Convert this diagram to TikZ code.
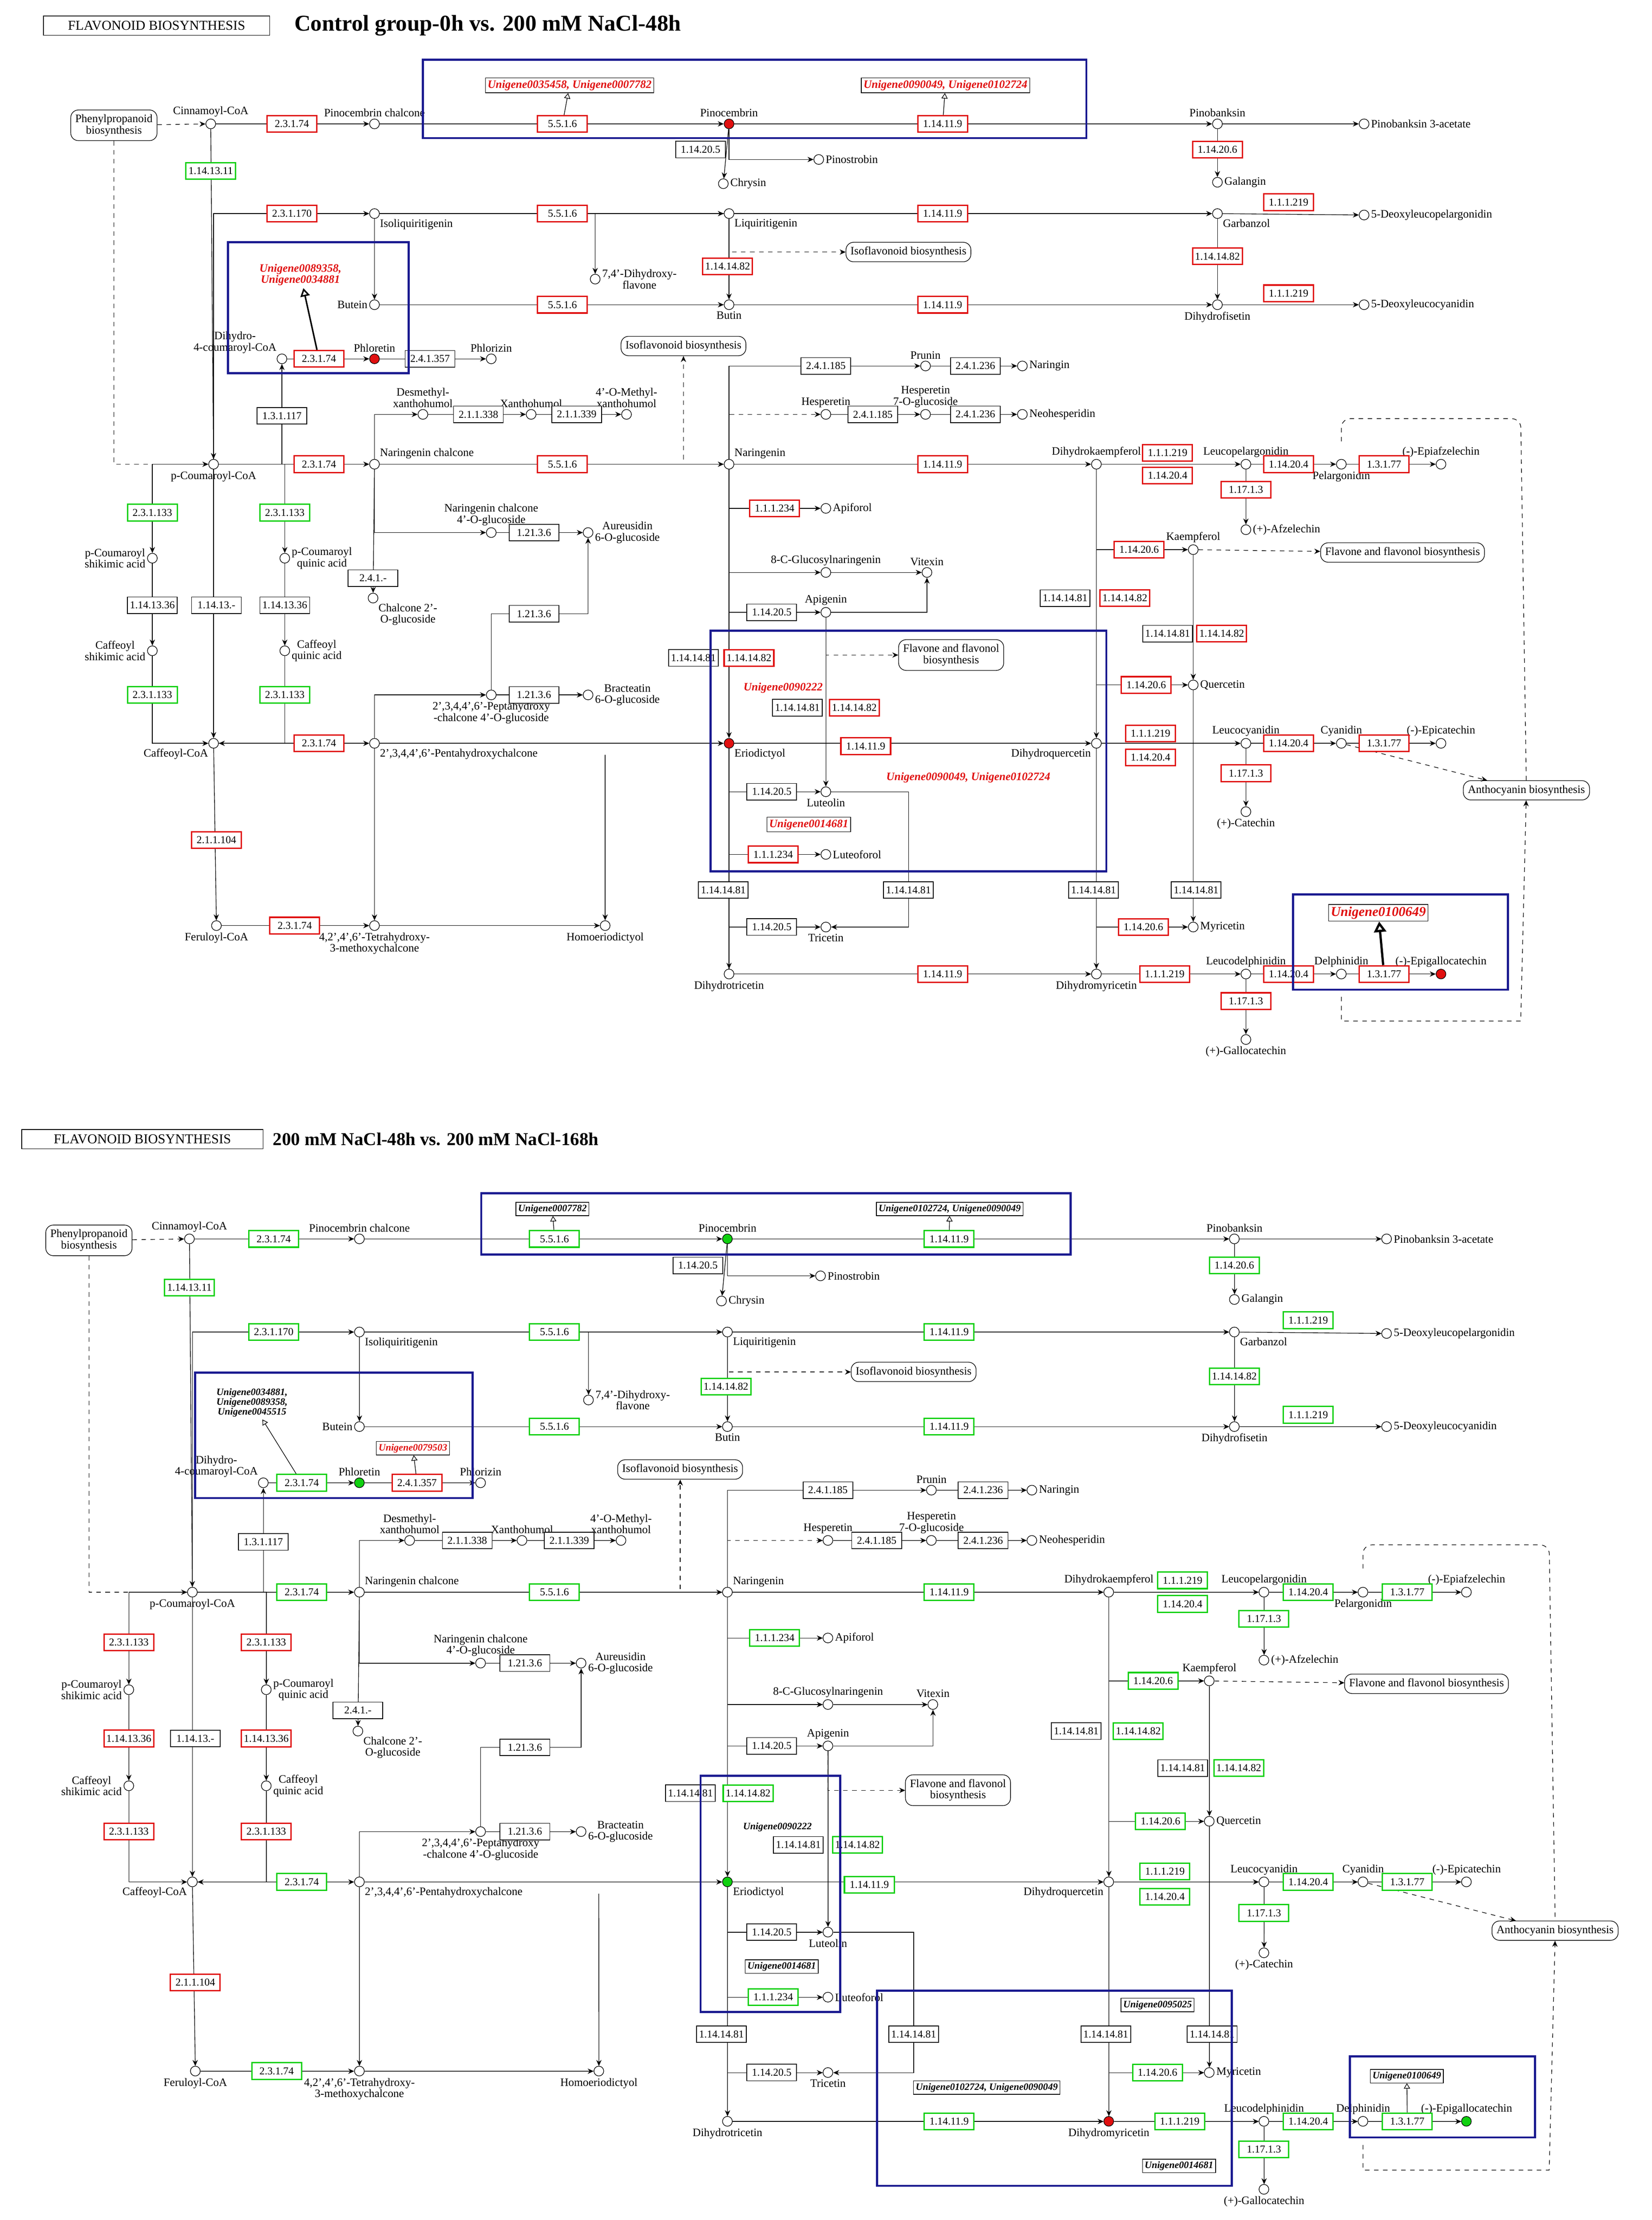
\documentclass[tikz,border=0pt]{standalone}
\usepackage{fontspec}
\setmainfont{Liberation Serif}
\usetikzlibrary{arrows.meta,calc}
\definecolor{kR}{HTML}{E01010}
\definecolor{kG}{HTML}{10D010}
\definecolor{kK}{HTML}{000000}
\definecolor{kW}{HTML}{FFFFFF}
\definecolor{navy}{HTML}{1A1A90}
\newif\ifbot
\newcounter{enzc}
\newcommand\E[5]{\ifbot\def\ecol{k#5}\def\ekey{#5}\else\def\ecol{k#4}\def\ekey{#4}\fi\stepcounter{enzc}%
  \if K\ekey\def\elw{0.5pt}\else\def\elw{0.9pt}\fi
  \node[enz,draw=\ecol,line width=\elw] (e\arabic{enzc}) at (#1,#2) {#3};}
\newcommand\C[6]{\ifbot\def\ccol{k#6}\else\def\ccol{k#5}\fi%
  \node[cpd,fill=\ccol,label={[lab]#4}] (#1) at (#2,#3) {};}
\tikzset{
 enz/.style={rectangle,fill=white,minimum width=33pt,minimum height=11pt,inner sep=1pt,font=\fontsize{7}{7}\selectfont},
 cpd/.style={circle,draw,thin,minimum size=6.5pt,inner sep=0pt},
 lab/.style={font=\fontsize{7.5}{7.5}\selectfont,align=center,inner sep=1pt},
 pbox/.style={rounded corners=5pt,draw,fill=white,align=center,font=\fontsize{7.5}{7.5}\selectfont,inner sep=3pt},
 ar/.style={-{Stealth[length=4pt,width=3.5pt]},thin},
 da/.style={ar,dashed},
 bluebox/.style={draw=navy,line width=1.4pt},
 ulab/.style={draw,thin,font=\fontsize{7.5}{7.5}\selectfont\bfseries\itshape,inner sep=1.5pt,align=center,fill=white},
}
\newcommand\pathway{%
\setcounter{enzc}{0}%
\node[pbox] (ppb) at (80,88) {Phenylpropanoid\\biosynthesis};
\node[pbox] (iso1) at (638,177) {Isoflavonoid biosynthesis};
\node[pbox] (iso2) at (480,243) {Isoflavonoid biosynthesis};
\node[pbox] (ffb1) at (668,460) {Flavone and flavonol\\biosynthesis};
\node[pbox] (ffb2) at (985,388) {Flavone and flavonol biosynthesis};
\node[pbox] (anth) at (1072,555) {Anthocyanin biosynthesis};
\C{cin}{148}{87}{above:Cinnamoyl-CoA}{W}{W}
\C{pinc}{263}{87}{above:Pinocembrin chalcone}{W}{W}
\C{pino}{512}{87}{above:Pinocembrin}{R}{G}
\C{pinb}{855}{87}{above:Pinobanksin}{W}{W}
\C{pinb3}{958}{87}{right:Pinobanksin 3-acetate}{W}{W}
\C{gal}{855}{128}{right:Galangin}{W}{W}
\C{pstr}{575}{112}{right:Pinostrobin}{W}{W}
\C{chry}{508}{129}{right:Chrysin}{W}{W}
\C{iso}{263}{150}{below right:Isoliquiritigenin}{W}{W}
\C{liq}{512}{150}{below right:Liquiritigenin}{W}{W}
\C{garb}{855}{150}{below right:Garbanzol}{W}{W}
\C{dlp}{958}{151}{right:5-Deoxyleucopelargonidin}{W}{W}
\C{dhf}{418}{196}{right:{7,4'-Dihydroxy-\\flavone}}{W}{W}
\C{but}{263}{214}{left:Butein}{W}{W}
\C{buti}{512}{214}{below:Butin}{W}{W}
\C{dfis}{855}{214}{below:Dihydrofisetin}{W}{W}
\C{dlc}{958}{214}{right:5-Deoxyleucocyanidin}{W}{W}
\C{dh4}{198}{252}{above left:{Dihydro-\\4-coumaroyl-CoA}}{W}{W}
\C{phlt}{263}{252}{above:Phloretin}{R}{G}
\C{phlz}{345}{252}{above:Phlorizin}{W}{W}
\C{prun}{650}{257}{above:Prunin}{W}{W}
\C{narg}{718}{257}{right:Naringin}{W}{W}
\C{desm}{297}{291}{above:{Desmethyl-\\xanthohumol}}{W}{W}
\C{xan}{373}{291}{above:Xanthohumol}{W}{W}
\C{omx}{440}{291}{above:{4'-O-Methyl-\\xanthohumol}}{W}{W}
\C{hesp}{580}{291}{above:Hesperetin}{W}{W}
\C{hesg}{650}{291}{above:{Hesperetin\\7-O-glucoside}}{W}{W}
\C{neoh}{718}{291}{right:Neohesperidin}{W}{W}
\C{pcc}{150}{326}{below:p-Coumaroyl-CoA}{W}{W}
\C{narc}{263}{326}{above right:Naringenin chalcone}{W}{W}
\C{nar}{512}{326}{above right:Naringenin}{W}{W}
\C{dhk}{770}{326}{above:Dihydrokaempferol}{W}{W}
\C{lpel}{875}{326}{above:Leucopelargonidin}{W}{W}
\C{pel}{942}{326}{below:Pelargonidin}{W}{W}
\C{epiaf}{1012}{326}{above:(-)-Epiafzelechin}{W}{W}
\C{afz}{875}{372}{right:(+)-Afzelechin}{W}{W}
\C{pcs}{107}{392}{left:{p-Coumaroyl\\shikimic acid}}{W}{W}
\C{pcq}{200}{392}{right:{p-Coumaroyl\\quinic acid}}{W}{W}
\C{ncg}{345}{374}{above:{Naringenin chalcone\\4'-O-glucoside}}{W}{W}
\C{aur}{413}{374}{right:{Aureusidin\\6-O-glucoside}}{W}{W}
\C{c2g}{262}{420}{below right:{Chalcone 2'-\\O-glucoside}}{W}{W}
\C{apif}{580}{357}{right:Apiforol}{W}{W}
\C{cgn}{580}{402}{above:8-C-Glucosylnaringenin}{W}{W}
\C{vit}{651}{402}{above:Vitexin}{W}{W}
\C{api}{580}{430}{above:Apigenin}{W}{W}
\C{kae}{838}{386}{above:Kaempferol}{W}{W}
\C{cs}{107}{457}{left:{Caffeoyl\\shikimic acid}}{W}{W}
\C{cq}{200}{457}{right:{Caffeoyl\\quinic acid}}{W}{W}
\C{que}{838}{481}{right:Quercetin}{W}{W}
\C{pentg}{345}{488}{below:{2',3,4,4',6'-Peptahydroxy\\-chalcone 4'-O-glucoside}}{W}{W}
\C{brac}{413}{488}{right:{Bracteatin\\6-O-glucoside}}{W}{W}
\C{caf}{150}{522}{below left:Caffeoyl-CoA}{W}{W}
\C{penta}{263}{522}{below right:2',3,4,4',6'-Pentahydroxychalcone}{W}{W}
\C{erio}{512}{522}{below right:Eriodictyol}{R}{G}
\C{dhq}{770}{522}{below left:Dihydroquercetin}{W}{W}
\C{lcy}{875}{522}{above:Leucocyanidin}{W}{W}
\C{cya}{942}{522}{above:Cyanidin}{W}{W}
\C{epic}{1012}{522}{above:(-)-Epicatechin}{W}{W}
\C{cat}{875}{570}{below:(+)-Catechin}{W}{W}
\C{lut}{580}{556}{below:Luteolin}{W}{W}
\C{lutf}{580}{600}{right:Luteoforol}{W}{W}
\C{fer}{152}{650}{below:Feruloyl-CoA}{W}{W}
\C{tetra}{263}{650}{below:{4,2',4',6'-Tetrahydroxy-\\3-methoxychalcone}}{W}{W}
\C{homo}{425}{650}{below:Homoeriodictyol}{W}{W}
\C{tric}{580}{651}{below:Tricetin}{W}{W}
\C{myr}{838}{651}{right:Myricetin}{W}{W}
\C{dht}{512}{684}{below:Dihydrotricetin}{W}{W}
\C{dhm}{770}{684}{below:Dihydromyricetin}{W}{R}
\C{ldel}{875}{684}{above:Leucodelphinidin}{W}{W}
\C{del}{942}{684}{above:Delphinidin}{W}{W}
\C{epig}{1012}{684}{above:(-)-Epigallocatechin}{R}{G}
\C{gcat}{875}{730}{below:(+)-Gallocatechin}{W}{W}
% connectors
\draw[da] (ppb) -- (cin);
\draw[da] (ppb) |- (pcc);
\draw[ar] (cin) -- (pinc);
\draw[ar] (pinc) -- (pino);
\draw[ar] (pino) -- (pinb);
\draw[ar] (pinb) -- (pinb3);
\draw[ar] (pinb) -- (gal);
\draw[ar] (pino) |- (pstr);
\draw[ar] (pino) -- (chry);
\draw[ar] (cin) -- (pcc);
\draw[ar] (pcc) |- (iso);
\draw[ar] (iso) -- (liq);
\draw[ar] (liq) -- (garb);
\draw[ar] (garb) -- (dlp);
\draw[ar] (liq) -| (dhf);
\draw[da] (liq) |- (iso1);
\draw[ar] (liq) -- (buti);
\draw[ar] (garb) -- (dfis);
\draw[ar] (iso) -- (but);
\draw[ar] (but) -- (buti);
\draw[ar] (buti) -- (dfis);
\draw[ar] (dfis) -- (dlc);
\draw[ar] (pcc) -| (dh4);
\draw[ar] (dh4) -- (phlt);
\draw[ar] (phlt) -- (phlz);
\draw[ar] (pcc) -- (narc);
\draw[ar] (narc) -- (nar);
\draw[ar] (nar) -- (dhk);
\draw[ar] (dhk) -- (lpel);
\draw[ar] (lpel) -- (pel);
\draw[ar] (pel) -- (epiaf);
\draw[ar] (lpel) -- (afz);
\draw[ar] (narc) |- (desm);
\draw[ar] (desm) -- (xan);
\draw[ar] (xan) -- (omx);
\draw[ar] (narc) |- (ncg);
\draw[ar] (ncg) -- (aur);
\draw[ar] (narc) -- (c2g);
\draw[ar] (nar) |- (prun);
\draw[da] (nar) |- (hesp);
\draw[da] (nar) -| (iso2);
\draw[ar] (prun) -- (narg);
\draw[ar] (hesp) -- (hesg);
\draw[ar] (hesg) -- (neoh);
\draw[ar] (nar) |- (apif);
\draw[ar] (nar) |- (cgn);
\draw[ar] (cgn) -- (vit);
\draw[ar] (nar) |- (api);
\draw[ar] (api) -| (vit);
\draw[da] (api) |- (ffb1);
\draw[ar] (nar) -- (erio);
\draw[ar] (pcc) -| (pcs);
\draw[ar] (pcc) -| (pcq);
\draw[ar] (pcs) -- (cs);
\draw[ar] (pcq) -- (cq);
\draw[ar] (cs) |- (caf);
\draw[ar] (cq) |- (caf);
\draw[ar] (pcc) -- (caf);
\draw[ar] (caf) -- (penta);
\draw[ar] (penta) -- (erio);
\draw[ar] (penta) |- (pentg);
\draw[ar] (pentg) -- (brac);
\draw[ar] (pentg) |- (375,431) -| (aur);
\draw[ar] (caf) -- (fer);
\draw[ar] (fer) -- (tetra);
\draw[ar] (tetra) -- (homo);
\draw[ar] (penta) -- (tetra);
\draw[ar] (425,530) -- (homo);
\draw[ar] (erio) -- (dhq);
\draw[ar] (dhq) -- (lcy);
\draw[ar] (lcy) -- (cya);
\draw[ar] (cya) -- (epic);
\draw[ar] (lcy) -- (cat);
\draw[ar] (erio) |- (lut);
\draw[ar] (erio) |- (lutf);
\draw[ar] (api) -- (lut);
\draw[ar] (erio) -- (dht);
\draw[ar] (lut) -| (638,640) |- (tric);
\draw[ar] (dht) |- (tric);
\draw[ar] (dht) -- (dhm);
\draw[ar] (dhm) -- (ldel);
\draw[ar] (ldel) -- (del);
\draw[ar] (del) -- (epig);
\draw[ar] (ldel) -- (gcat);
\draw[ar] (dhk) -- (dhq);
\draw[ar] (dhq) -- (dhm);
\draw[ar] (dhk) |- (kae);
\draw[da] (kae) -- (ffb2);
\draw[ar] (kae) -- (que);
\draw[ar] (que) -- (myr);
\draw[ar] (dhq) |- (que);
\draw[ar] (dhm) |- (myr);
\draw[da] (cya) -- (anth);
\draw[dashed,rounded corners=6pt] (942,310) |- (1068,294) -- (anth);
\draw[da] (942,700) |- (1068,717) -- (anth);
% enzymes
\E{205}{87}{2.3.1.74}{R}{G}
\E{395}{87}{5.5.1.6}{R}{G}
\E{662}{87}{1.14.11.9}{R}{G}
\E{855}{105}{1.14.20.6}{R}{G}
\E{492}{105}{1.14.20.5}{K}{K}
\E{148}{120}{1.14.13.11}{G}{G}
\E{205}{150}{2.3.1.170}{R}{G}
\E{395}{150}{5.5.1.6}{R}{G}
\E{662}{150}{1.14.11.9}{R}{G}
\E{905}{142}{1.1.1.219}{R}{G}
\E{511}{187}{1.14.14.82}{R}{G}
\E{855}{180}{1.14.14.82}{R}{G}
\E{395}{214}{5.5.1.6}{R}{G}
\E{662}{214}{1.14.11.9}{R}{G}
\E{905}{206}{1.1.1.219}{R}{G}
\E{224}{252}{2.3.1.74}{R}{G}
\E{302}{252}{2.4.1.357}{K}{R}
\E{198}{292}{1.3.1.117}{K}{K}
\E{580}{257}{2.4.1.185}{K}{K}
\E{685}{257}{2.4.1.236}{K}{K}
\E{336}{291}{2.1.1.338}{K}{K}
\E{405}{291}{2.1.1.339}{K}{K}
\E{613}{291}{2.4.1.185}{K}{K}
\E{685}{291}{2.4.1.236}{K}{K}
\E{224}{326}{2.3.1.74}{R}{G}
\E{395}{326}{5.5.1.6}{R}{G}
\E{662}{326}{1.14.11.9}{R}{G}
\E{820}{318}{1.1.1.219}{R}{G}
\E{820}{334}{1.14.20.4}{R}{G}
\E{905}{326}{1.14.20.4}{R}{G}
\E{972}{326}{1.3.1.77}{R}{G}
\E{875}{344}{1.17.1.3}{R}{G}
\E{107}{360}{2.3.1.133}{G}{R}
\E{200}{360}{2.3.1.133}{G}{R}
\E{544}{357}{1.1.1.234}{R}{G}
\E{375}{374}{1.21.3.6}{K}{K}
\E{800}{386}{1.14.20.6}{R}{G}
\E{262}{406}{2.4.1.-}{K}{K}
\E{748}{420}{1.14.14.81}{K}{K}
\E{790}{420}{1.14.14.82}{R}{G}
\E{107}{425}{1.14.13.36}{K}{R}
\E{152}{425}{1.14.13.-}{K}{K}
\E{200}{425}{1.14.13.36}{K}{R}
\E{542}{430}{1.14.20.5}{K}{K}
\E{375}{431}{1.21.3.6}{K}{K}
\E{820}{445}{1.14.14.81}{K}{K}
\E{858}{445}{1.14.14.82}{R}{G}
\E{487}{462}{1.14.14.81}{K}{K}
\E{526}{462}{1.14.14.82}{R}{G}
\E{107}{488}{2.3.1.133}{G}{R}
\E{200}{488}{2.3.1.133}{G}{R}
\E{375}{488}{1.21.3.6}{K}{K}
\E{560}{497}{1.14.14.81}{K}{K}
\E{600}{497}{1.14.14.82}{R}{G}
\E{805}{481}{1.14.20.6}{R}{G}
\E{224}{522}{2.3.1.74}{R}{G}
\E{608}{524}{1.14.11.9}{R}{G}
\E{808}{515}{1.1.1.219}{R}{G}
\E{808}{532}{1.14.20.4}{R}{G}
\E{905}{522}{1.14.20.4}{R}{G}
\E{972}{522}{1.3.1.77}{R}{G}
\E{875}{543}{1.17.1.3}{R}{G}
\E{542}{556}{1.14.20.5}{K}{K}
\E{152}{590}{2.1.1.104}{R}{R}
\E{543}{600}{1.1.1.234}{R}{G}
\E{508}{625}{1.14.14.81}{K}{K}
\E{638}{625}{1.14.14.81}{K}{K}
\E{768}{625}{1.14.14.81}{K}{K}
\E{840}{625}{1.14.14.81}{K}{K}
\E{207}{650}{2.3.1.74}{R}{G}
\E{542}{651}{1.14.20.5}{K}{K}
\E{803}{651}{1.14.20.6}{R}{G}
\E{662}{684}{1.14.11.9}{R}{G}
\E{818}{684}{1.1.1.219}{R}{G}
\E{905}{684}{1.14.20.4}{R}{G}
\E{972}{684}{1.3.1.77}{R}{G}
\E{875}{703}{1.17.1.3}{R}{G}
}
\begin{document}
\begin{tikzpicture}[x=0.0332cm,y=-0.0332cm]
\useasboundingbox[fill=white] (0,0) rectangle (1160,1559);
% top panel
\node[draw,thin,font=\fontsize{9}{9}\selectfont,minimum width=150pt] (t1) at (110,18) {FLAVONOID BIOSYNTHESIS};
\node[anchor=west,font=\fontsize{15}{15}\selectfont\bfseries] (t2) at (203,18) {Control group-0h vs. 200 mM NaCl-48h};
\begin{scope}[name prefix=top-]
\botfalse
\pathway
\draw[bluebox] (297,42) rectangle (763,97);
\draw[bluebox] (160,170) rectangle (287,262);
\draw[bluebox] (499,443) rectangle (777,612);
\draw[bluebox] (908,628) rectangle (1059,695);
\node[ulab,text=kR] (u1) at (400,60) {Unigene0035458, Unigene0007782};
\node[ulab,text=kR] (u2) at (664,60) {Unigene0090049, Unigene0102724};
\node[ulab,text=kR,draw=none] (u3) at (211,193) {Unigene0089358,\\Unigene0034881};
\node[ulab,text=kR,draw=none] (u4) at (550,483) {Unigene0090222};
\node[ulab,text=kR,draw=none] (u5) at (680,546) {Unigene0090049, Unigene0102724};
\node[ulab,text=kR] (u6) at (568,579) {Unigene0014681};
\node[ulab,text=kR,font=\fontsize{9}{9}\selectfont\bfseries\itshape] (u7) at (968,641) {Unigene0100649};
\draw[-{Triangle[open]}] (e2) -- (u1);
\draw[-{Triangle[open]}] (e3) -- (u2);
\draw[-{Triangle[open]},line width=1pt] (e16) -- (u3);
\draw[-{Triangle[open]},line width=1.5pt] (e76) -- (u7);
\end{scope}
% bottom panel
\node[draw,thin,font=\fontsize{9}{9}\selectfont,minimum width=160pt] (b1) at (100,800) {FLAVONOID BIOSYNTHESIS};
\node[anchor=west,font=\fontsize{12}{12}\selectfont\bfseries] (b2) at (188,800) {200 mM NaCl-48h vs. 200 mM NaCl-168h};
\begin{scope}[name prefix=bot-,shift={(-20.6,779.7)},scale=1.038]
\bottrue
\pathway
\end{scope}
\draw[bluebox] (338,838) rectangle (752,881);
\draw[bluebox] (137,964) rectangle (332,1052);
\draw[bluebox] (492,1247) rectangle (590,1413);
\draw[bluebox] (616,1398) rectangle (865,1535);
\draw[bluebox] (948,1444) rectangle (1078,1501);
\node[ulab,font=\fontsize{6.5}{6.5}\selectfont\bfseries\itshape] (v1) at (388,849) {Unigene0007782};
\node[ulab,font=\fontsize{6.5}{6.5}\selectfont\bfseries\itshape] (v2) at (667,849) {Unigene0102724, Unigene0090049};
\node[ulab,font=\fontsize{6.5}{6.5}\selectfont\bfseries\itshape,draw=none,fill=none] (v3) at (177,985) {Unigene0034881,\\Unigene0089358,\\Unigene0045515};
\node[ulab,font=\fontsize{6.5}{6.5}\selectfont\bfseries\itshape,text=kR] (v4) at (290,1017) {Unigene0079503};
\node[ulab,font=\fontsize{6.5}{6.5}\selectfont\bfseries\itshape,draw=none] (v5) at (546,1283) {Unigene0090222};
\node[ulab,font=\fontsize{6.5}{6.5}\selectfont\bfseries\itshape] (v6) at (549,1381) {Unigene0014681};
\node[ulab,font=\fontsize{6.5}{6.5}\selectfont\bfseries\itshape] (v7) at (813,1408) {Unigene0095025};
\node[ulab,font=\fontsize{6.5}{6.5}\selectfont\bfseries\itshape] (v8) at (693,1466) {Unigene0102724, Unigene0090049};
\node[ulab,font=\fontsize{6.5}{6.5}\selectfont\bfseries\itshape] (v9) at (828,1521) {Unigene0014681};
\node[ulab,font=\fontsize{6.5}{6.5}\selectfont\bfseries\itshape] (v10) at (988,1458) {Unigene0100649};
\draw[-{Triangle[open]}] (bot-e2) -- (v1);
\draw[-{Triangle[open]}] (bot-e3) -- (v2);
\draw[-{Triangle[open]}] (bot-e16) -- (v3);
\draw[-{Triangle[open]}] (bot-e17) -- (v4);
\draw[-{Triangle[open]}] (bot-e76) -- (v10);
\end{tikzpicture}
\end{document}
